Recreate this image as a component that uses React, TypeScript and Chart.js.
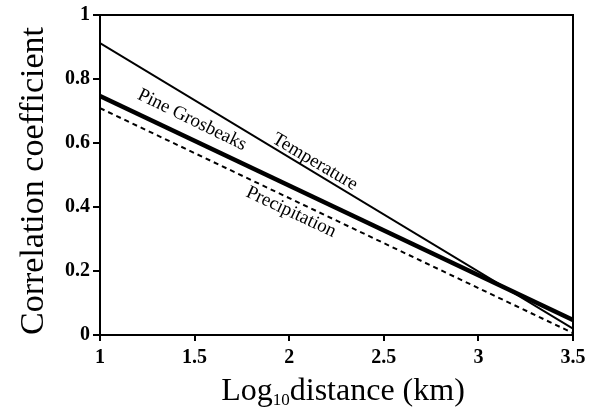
import React, { useEffect, useRef } from "react";
import { Chart, registerables } from "chart.js";

Chart.register(...registerables);

// ---- data ----
const xValues = [1, 3.5];
const temperature = [0.912, 0.02];
const pineGrosbeaks = [0.747, 0.047];
const precipitation = [0.709, 0.006];
const xTicks = [1, 1.5, 2, 2.5, 3, 3.5];
const yTicks = [0, 0.2, 0.4, 0.6, 0.8, 1];
const seriesNames = ["Temperature", "Pine Grosbeaks", "Precipitation"];

const FONT = "'Liberation Serif', 'DejaVu Serif', serif";

const toPoints = (ys: number[]) => xValues.map((x, i) => ({ x, y: ys[i] }));
const fmt = (v: any) => String(+Number(v).toFixed(2));

const decorPlugin = {
  id: "decor",
  afterDraw(chart: any) {
    const { ctx, chartArea, scales } = chart;
    const xs = scales.x;
    const ys = scales.y;
    ctx.save();
    // frame top & right
    ctx.strokeStyle = "#000";
    ctx.lineWidth = 2;
    ctx.beginPath();
    ctx.moveTo(chartArea.left, chartArea.top);
    ctx.lineTo(chartArea.right, chartArea.top);
    ctx.lineTo(chartArea.right, chartArea.bottom);
    ctx.stroke();

    // in-plot labels
    const labels = [
      { text: seriesNames[0], x: 2.136, y: 0.541, angle: 30.5 },
      { text: seriesNames[1], x: 1.486, y: 0.672, angle: 26 },
      { text: seriesNames[2], x: 2.01, y: 0.384, angle: 25 },
    ];
    ctx.fillStyle = "#000";
    ctx.font = `19px ${FONT}`;
    ctx.textAlign = "center";
    ctx.textBaseline = "middle";
    for (const l of labels) {
      ctx.save();
      ctx.translate(xs.getPixelForValue(l.x), ys.getPixelForValue(l.y));
      ctx.rotate((l.angle * Math.PI) / 180);
      ctx.fillText(l.text, 0, 0);
      ctx.restore();
    }

    // y axis title
    ctx.save();
    ctx.font = `34px ${FONT}`;
    ctx.textAlign = "center";
    ctx.textBaseline = "alphabetic";
    ctx.translate(43, 181);
    ctx.rotate(-Math.PI / 2);
    ctx.fillText("Correlation coefficient", 0, 0);
    ctx.restore();

    // x axis title with subscript
    const big = `32px ${FONT}`;
    const small = `17px ${FONT}`;
    const p1 = "Log";
    const p2 = "10";
    const p3 = "distance (km)";
    ctx.font = big;
    const w1 = ctx.measureText(p1).width;
    const w3 = ctx.measureText(p3).width;
    ctx.font = small;
    const w2 = ctx.measureText(p2).width;
    const total = w1 + w2 + w3;
    let cx = 343 - total / 2;
    const base = 400;
    ctx.textAlign = "left";
    ctx.textBaseline = "alphabetic";
    ctx.font = big;
    ctx.fillText(p1, cx, base);
    cx += w1;
    ctx.font = small;
    ctx.fillText(p2, cx, base + 5);
    cx += w2;
    ctx.font = big;
    ctx.fillText(p3, cx, base);
    ctx.restore();
  },
};

export default function App() {
  const ref = useRef<HTMLCanvasElement | null>(null);

  useEffect(() => {
    document.body.style.margin = "0";
    const canvas = ref.current;
    if (!canvas) return;
    const chart = new Chart(canvas, {
      type: "line",
      data: {
        datasets: [
          {
            label: seriesNames[0],
            data: toPoints(temperature),
            borderColor: "#000",
            borderWidth: 2,
            pointRadius: 0,
            fill: false,
          },
          {
            label: seriesNames[1],
            data: toPoints(pineGrosbeaks),
            borderColor: "#000",
            borderWidth: 4.5,
            pointRadius: 0,
            fill: false,
          },
          {
            label: seriesNames[2],
            data: toPoints(precipitation),
            borderColor: "#000",
            borderWidth: 2,
            borderDash: [5, 4],
            pointRadius: 0,
            fill: false,
          },
        ],
      },
      options: {
        animation: false,
        responsive: false,
        devicePixelRatio: 1,
        layout: { padding: { top: 15, right: 19, left: 0, bottom: 0 } },
        plugins: {
          legend: { display: false },
          tooltip: { enabled: false },
        },
        scales: {
          x: {
            type: "linear",
            min: 1,
            max: 3.5,
            afterBuildTicks: (s: any) => {
              s.ticks = xTicks.map((v) => ({ value: v }));
            },
            afterFit: (s: any) => {
              s.height = 75;
            },
            ticks: {
              color: "#000",
              font: { family: FONT, size: 20, weight: "bold" },
              padding: 5,
              maxRotation: 0,
              autoSkip: false,
              callback: fmt,
            },
            grid: {
              drawOnChartArea: false,
              drawTicks: true,
              tickLength: 6,
              color: "#000",
              lineWidth: 2,
            },
            border: { display: true, color: "#000", width: 2 },
          },
          y: {
            type: "linear",
            min: 0,
            max: 1,
            afterBuildTicks: (s: any) => {
              s.ticks = yTicks.map((v) => ({ value: v }));
            },
            afterFit: (s: any) => {
              s.width = 100;
            },
            ticks: {
              color: "#000",
              font: { family: FONT, size: 20, weight: "bold" },
              padding: 3,
              autoSkip: false,
              callback: fmt,
            },
            grid: {
              drawOnChartArea: false,
              drawTicks: true,
              tickLength: 7,
              color: "#000",
              lineWidth: 2,
            },
            border: { display: true, color: "#000", width: 2 },
          },
        },
      },
      plugins: [decorPlugin],
    });
    return () => chart.destroy();
  }, []);

  return (
    <div style={{ position: "absolute", left: 0, top: 0, width: 592, height: 410 }}>
      <canvas ref={ref} width={592} height={410} style={{ width: 592, height: 410 }} />
    </div>
  );
}
